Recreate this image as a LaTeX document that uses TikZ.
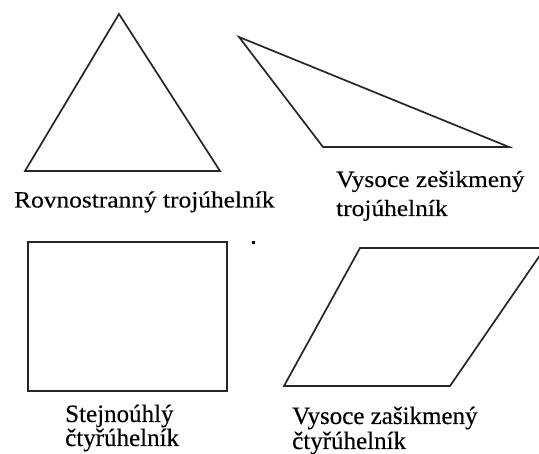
\documentclass[tikz,border=0pt]{standalone}
\usepackage{fontspec}
\setmainfont{Liberation Serif}
\newfontfamily\widefont{Liberation Serif}[FakeStretch=1.09,FakeBold=0.3]
\newfontfamily\plainfont{Liberation Serif}[FakeBold=0.3]
\begin{document}
\begin{tikzpicture}[x=1pt,y=-1pt,
  figline/.style={draw=black!85,line width=1.7pt,line join=miter},
  lbltop/.style={anchor=base west,inner sep=0pt,font=\widefont\fontsize{23.3}{29}\selectfont,text=black},
  lblbot/.style={anchor=base west,inner sep=0pt,font=\plainfont\fontsize{25}{29}\selectfont,text=black}]
\useasboundingbox (0,0) rectangle (539,454);
\begin{scope}
\clip (0,0) rectangle (539,454);
% equilateral triangle
\coordinate (t1a) at (119,14);
\coordinate (t1b) at (25,171);
\coordinate (t1c) at (220,171);
\draw[figline] (t1a) -- (t1b) -- (t1c) -- cycle;
% obtuse triangle
\coordinate (t2a) at (239,37);
\coordinate (t2b) at (323,147);
\coordinate (t2c) at (509,147);
\draw[figline] (t2a) -- (t2b) -- (t2c) -- cycle;
% rectangle
\coordinate (r1) at (28,242);
\coordinate (r2) at (227,391);
\draw[figline] (r1) rectangle (r2);
% parallelogram
\coordinate (p1) at (360,248);
\coordinate (p2) at (545,248);
\coordinate (p3) at (450,386);
\coordinate (p4) at (284,386);
\draw[figline] (p1) -- (p2) -- (p3) -- (p4) -- cycle;
\end{scope}
% stray mark
\fill[black] (252,241) rectangle (255,244);
% labels
\node[lbltop] (l1) at (14,207.5) {Rovnostranný trojúhelník};
\node[lbltop] (l2a) at (336,187) {Vysoce zešikmený};
\node[lbltop] (l2b) at (336,216) {trojúhelník};
\node[lblbot] (l3a) at (65,422) {Stejnoúhlý};
\node[lblbot] (l3b) at (65,446) {čtyřúhelník};
\node[lblbot] (l4a) at (292,424) {Vysoce zašikmený};
\node[lblbot] (l4b) at (292,449) {čtyřúhelník};
\end{tikzpicture}
\end{document}
